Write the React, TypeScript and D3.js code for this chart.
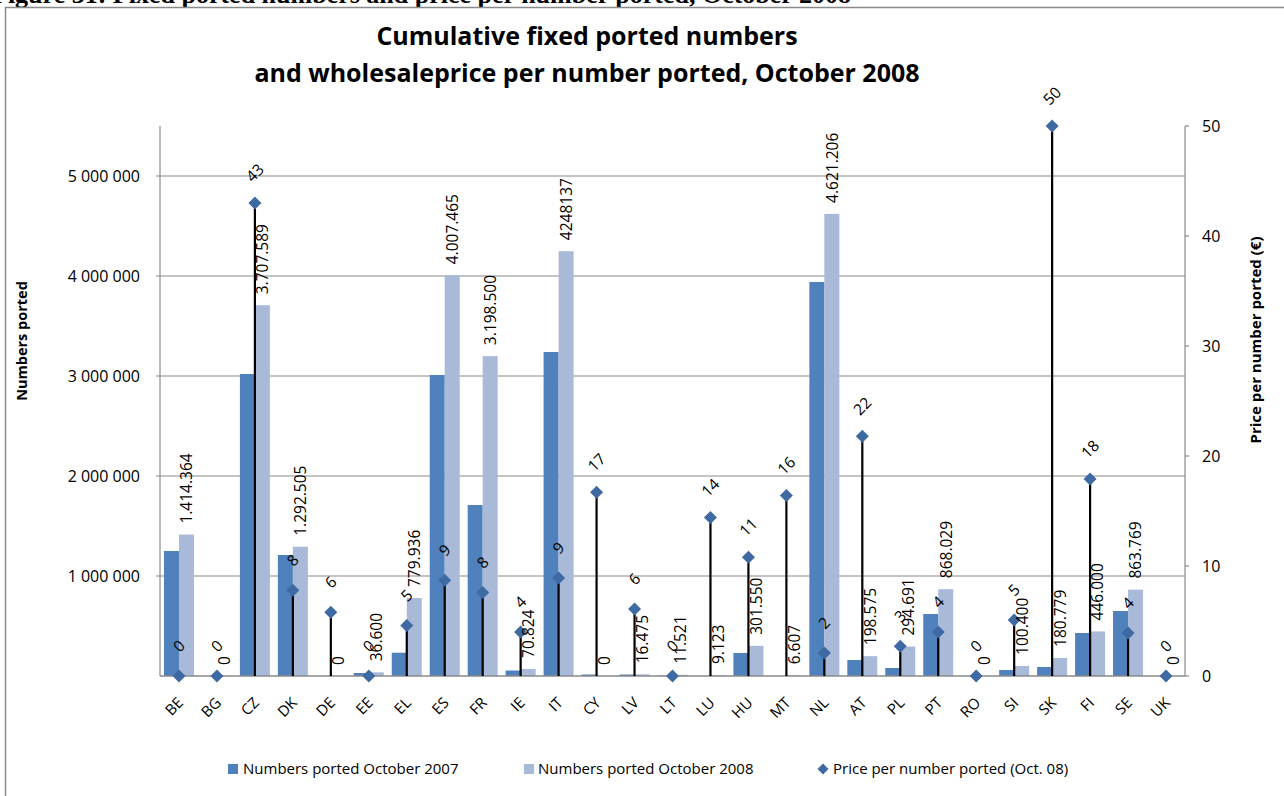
import React from "react";
import * as d3 from "d3";

const categories = ["BE","BG","CZ","DK","DE","EE","EL","ES","FR","IE","IT","CY","LV","LT","LU","HU","MT","NL","AT","PL","PT","RO","SI","SK","FI","SE","UK"];
const ported2007 = [1250000,0,3020000,1210000,0,30000,233000,3010000,1710000,55000,3240000,15000,15000,5000,0,230000,0,3940000,160000,80000,620000,0,60000,90000,430000,650000,0];
const ported2008 = [1414364,0,3707589,1292505,0,36600,779936,4007465,3198500,70824,4248137,0,16475,11521,9123,301550,6607,4621206,198575,294691,868029,0,100400,180779,446000,863769,0];
const ported2008Labels = ["1.414.364","0","3.707.589","1.292.505","0","36.600","779.936","4.007.465","3.198.500","70.824","4248137","0","16.475","11.521","9.123","301.550","6.607","4.621.206","198.575","294.691","868.029","0","100.400","180.779","446.000","863.769","0"];
const pricePerNumber = [0,0,43,7.8,5.8,0,4.6,8.7,7.6,4,8.9,16.7,6.1,0,14.4,10.8,16.4,2.1,21.8,2.7,4,0,5.1,50,17.9,3.9,0];
const leftTicks = [1000000,2000000,3000000,4000000,5000000];
const rightTicks = [0,10,20,30,40,50];
const titleLines = ["Cumulative fixed ported numbers","and wholesaleprice  per number ported, October 2008"];
const captionText = "Figure 31: Fixed ported numbers and price per number ported, October 2008";
const leftAxisTitle = "Numbers ported";
const rightAxisTitle = "Price per number ported (€)";
const legendLabels = ["Numbers ported October  2007","Numbers ported October  2008","Price per number ported  (Oct. 08)"];

const C2007 = "#4F81BD";
const C2008 = "#A9B9D8";
const CPRICE = "#3E69A2";
const GRID = "#8a8a8a";
const FONT = "'Open Sans', 'DejaVu Sans', sans-serif";

export default function App() {
  const W = 1284, H = 796;
  const left = 160, right = 1185, top = 126, bottom = 676;
  const x = d3.scaleBand<string>().domain(categories).range([left, right]).padding(0);
  const bw = 15;
  const y = d3.scaleLinear().domain([0, 5500000]).range([bottom, top]);
  const y2 = d3.scaleLinear().domain([0, 50]).range([bottom, top]);
  const fmtLeft = (v: number) => d3.format(",")(v).replace(/,/g, " ");
  const fmtPrice = d3.format(".0f");
  const cx = (c: string) => (x(c) as number) + x.bandwidth() / 2;
  const diamond = (px: number, py: number, r: number) =>
    `M${px},${py - r}L${px + r},${py}L${px},${py + r}L${px - r},${py}Z`;

  return (
    <svg width={W} height={H} style={{ position: "absolute", left: 0, top: 0, background: "#fff" }}>
      <rect x={0} y={0} width={W} height={H} fill="#fff" />
      {/* caption, cut off at the top edge as in the reference */}
      <text x={-8} y={3} fontFamily="'Liberation Serif', serif" fontWeight="bold" fontSize={26}>{captionText}</text>
      {/* frame */}
      <path d={`M5.5,${H + 2}V7.5H${W + 2}`} fill="none" stroke={GRID} strokeWidth={1.5} />
      {/* title */}
      {titleLines.map((t, i) => (
        <text key={i} x={587} y={45 + i * 37} textAnchor="middle" fontFamily={FONT} fontWeight="bold" fontSize={25} fill="#000">{t}</text>
      ))}
      {/* gridlines */}
      {leftTicks.map((t) => (
        <g key={t}>
          <line x1={left - 4} x2={right} y1={y(t)} y2={y(t)} stroke={GRID} strokeWidth={1.2} />
          <text x={140} y={y(t)} dy="0.35em" textAnchor="end" fontFamily={FONT} fontSize={16} fill="#000">{fmtLeft(t)}</text>
        </g>
      ))}
      {rightTicks.map((t) => (
        <g key={t}>
          <line x1={right} x2={right + 4} y1={y2(t)} y2={y2(t)} stroke={GRID} strokeWidth={1.2} />
          <text x={1202} y={y2(t)} dy="0.35em" textAnchor="start" fontFamily={FONT} fontSize={16} fill="#000">{t}</text>
        </g>
      ))}
      {/* axes */}
      <line x1={left} x2={left} y1={top} y2={bottom} stroke={GRID} strokeWidth={1.2} />
      <line x1={right} x2={right} y1={top} y2={bottom} stroke={GRID} strokeWidth={1.2} />
      {/* bars */}
      {categories.map((c, i) => (
        <g key={c}>
          <rect x={cx(c) - bw} y={y(ported2007[i])} width={bw} height={bottom - y(ported2007[i])} fill={C2007} />
          <rect x={cx(c)} y={y(ported2008[i])} width={bw} height={bottom - y(ported2008[i])} fill={C2008} />
        </g>
      ))}
      <line x1={left} x2={right} y1={bottom} y2={bottom} stroke={GRID} strokeWidth={1.5} />
      {/* drop lines */}
      {categories.map((c, i) =>
        pricePerNumber[i] > 0 ? (
          <line key={c} x1={cx(c)} x2={cx(c)} y1={bottom} y2={y2(pricePerNumber[i])} stroke="#000" strokeWidth={2.2} />
        ) : null
      )}
      {/* diamonds */}
      {categories.map((c, i) => (
        <path key={c} d={diamond(cx(c), y2(pricePerNumber[i]), 6.5)} fill={CPRICE} />
      ))}
      {/* 2008 labels */}
      {categories.map((c, i) => (
        <text key={c} transform={`translate(${cx(c) + bw / 2},${y(ported2008[i]) - 11}) rotate(-90)`} dy="0.38em" textAnchor="start" fontFamily={FONT} fontSize={15.5} fill="#000">{ported2008Labels[i]}</text>
      ))}
      {/* price labels */}
      {categories.map((c, i) => (
        <text key={c} transform={`translate(${cx(c)},${y2(pricePerNumber[i]) - 30}) rotate(-45)`} dy="0.35em" textAnchor="middle" fontFamily={FONT} fontSize={15.5} fill="#000">{fmtPrice(pricePerNumber[i])}</text>
      ))}
      {/* x labels */}
      {categories.map((c) => (
        <text key={c} transform={`translate(${cx(c) + 1.5},${700}) rotate(-45)`} dy="0.35em" textAnchor="end" fontFamily={FONT} fontSize={15} fill="#000">{c}</text>
      ))}
      {/* axis titles */}
      <text transform={`translate(22,341) rotate(-90)`} dy="0.35em" textAnchor="middle" fontFamily={FONT} fontWeight="bold" fontSize={14.5}>{leftAxisTitle}</text>
      <text transform={`translate(1256,340) rotate(-90)`} dy="0.35em" textAnchor="middle" fontFamily={FONT} fontWeight="bold" fontSize={15}>{rightAxisTitle}</text>
      {/* legend */}
      <rect x={228} y={764} width={10} height={10} fill={C2007} />
      <text x={243} y={769} dy="0.35em" fontFamily={FONT} fontSize={15}>{legendLabels[0]}</text>
      <rect x={524} y={764} width={10} height={10} fill={C2008} />
      <text x={538} y={769} dy="0.35em" fontFamily={FONT} fontSize={15}>{legendLabels[1]}</text>
      <path d={diamond(823, 769, 5.5)} fill={CPRICE} />
      <text x={833} y={769} dy="0.35em" fontFamily={FONT} fontSize={15}>{legendLabels[2]}</text>
    </svg>
  );
}
